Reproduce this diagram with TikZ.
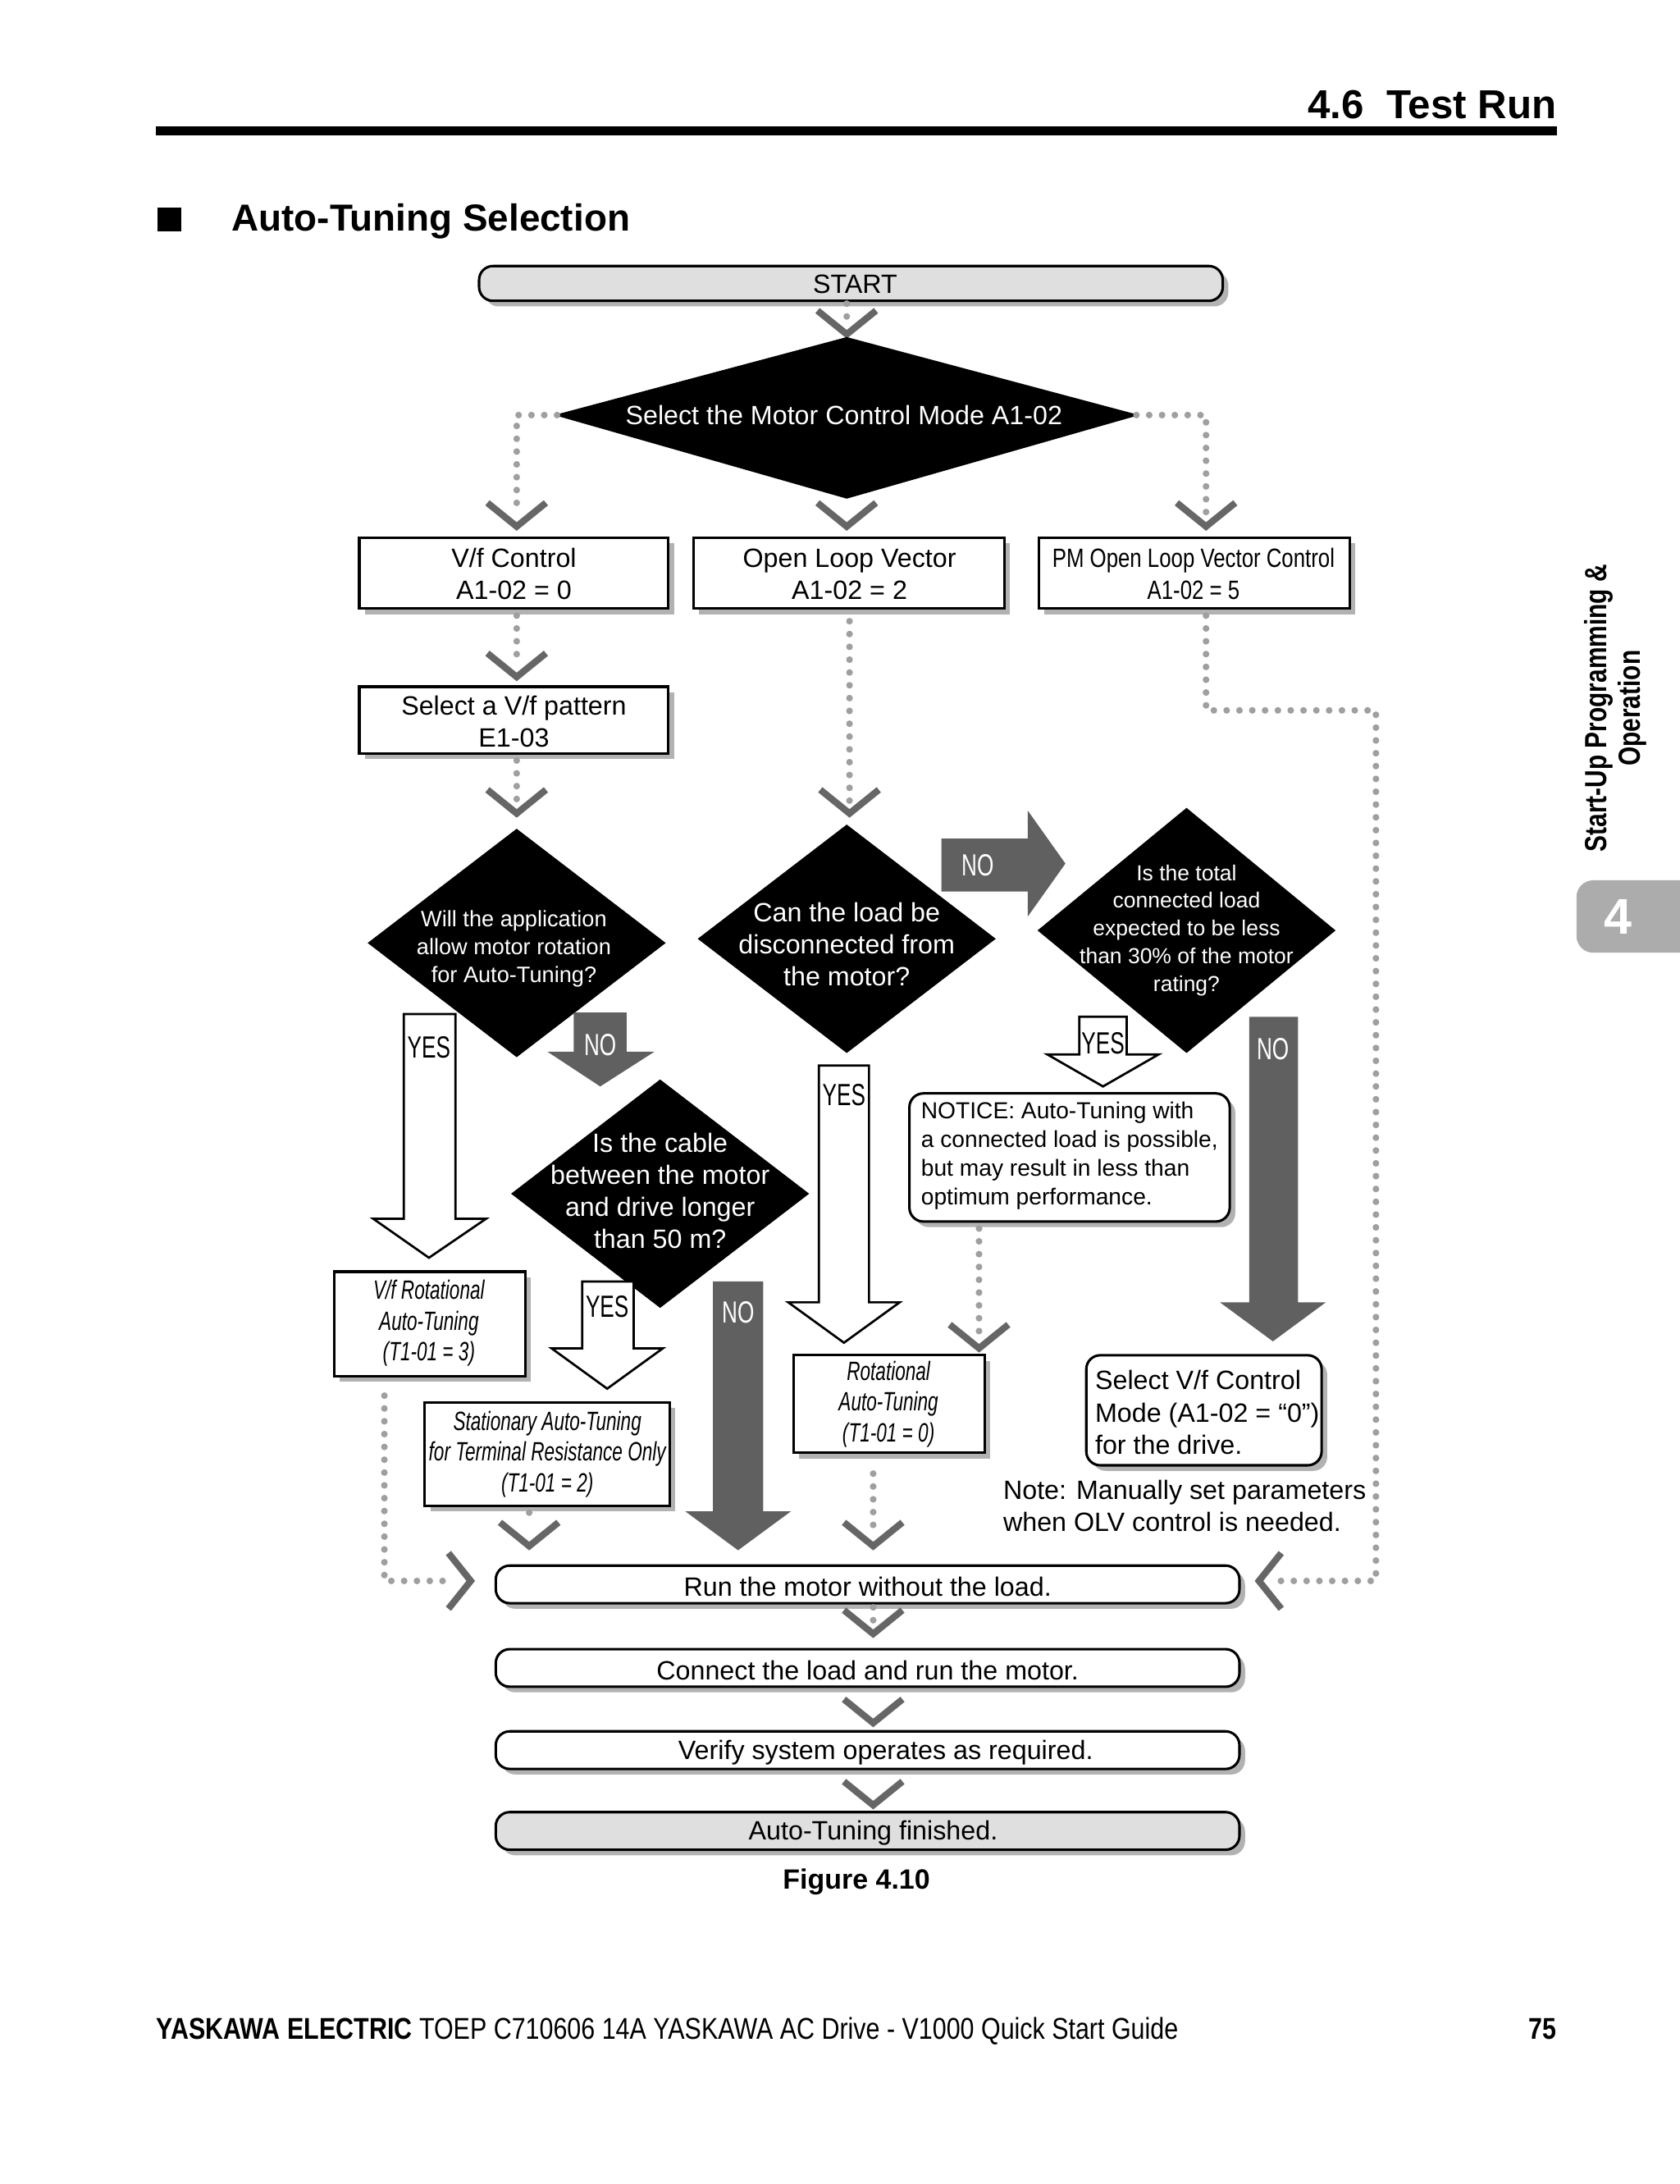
\documentclass[tikz,border=0pt]{standalone}
\usepackage{fontspec}
\setmainfont{Liberation Sans}
\newfontfamily\narrow{Liberation Sans}[FakeStretch=0.8]
\newfontfamily\nrwx{Liberation Sans}[FakeStretch=0.7]
\newfontfamily\footf{Liberation Sans}[FakeStretch=0.83]
\begin{document}
\begin{tikzpicture}[x=0.5pt,y=-0.5pt,
 dot/.style={draw=gray!75,line width=2.4pt,line cap=round,dash pattern=on 0pt off 4.6pt},
 chev/.style={draw=gray!80!black,line width=2.4pt},
 box/.style={draw=black,line width=0.9pt,fill=white},
 shad/.style={fill=gray!60,draw=none},
 dia/.style={fill=black,draw=none},
 wt/.style={text=white,align=center,inner sep=0pt},
 bt/.style={align=center,inner sep=0pt},
 lab/.style={font=\nrwx\fontsize{11}{13}\selectfont},
 garr/.style={fill=gray!75!black,draw=none},
 warr/.style={fill=white,draw=black,line width=0.8pt},
 fs/.style={font=\fontsize{9.5}{11.5}\selectfont}]
\newcommand\chev[2]{\draw[chev] ({#1-21},{#2-17}) -- (#1,#2) -- ({#1+21},{#2-17});}
\newcommand\shbox[4]{\fill[shad] ({#1+4},{#2+4}) rectangle ({#3+4},{#4+4});\draw[box] (#1,#2) rectangle (#3,#4);}
\newcommand\rbox[6]{\fill[shad,rounded corners=5pt] ({#1+4},{#2+4}) rectangle ({#3+4},{#4+4});\draw[box,rounded corners=5pt,fill=#6] (#1,#2) rectangle (#3,#4);}
\useasboundingbox (0,0) rectangle (1206,1568);
\fill[white] (0,0) rectangle (1206,1568);
% header
\node[anchor=base east,inner sep=0pt,font=\bfseries\fontsize{14.5}{16}\selectfont] (hdr) at (1118,85) {4.6\ \ Test Run};
\fill (112,91) rectangle (1118,97);
\fill (113,149) rectangle (130,166);
\node[anchor=base west,inner sep=0pt,font=\bfseries\fontsize{13.5}{16}\selectfont] (ttl) at (166,166) {Auto-Tuning Selection};
% side tab
\node[rotate=90,bt,font=\bfseries\narrow\fontsize{11}{12}\selectfont,anchor=west] (side) at (1160,612) {Start-Up Programming \&\\Operation};
\fill[gray!65,rounded corners=6pt] (1132,632) rectangle (1220,684);
\node[text=white,font=\bfseries\fontsize{18}{20}\selectfont] (four) at (1162,658) {4};
% START
\rbox{344}{191}{878}{216}{}{gray!25}
\node[fs] (start) at (614,204) {START};
\chev{608}{240}
\draw[dot] (608,218) -- (608,236);
% diamond 1
\fill[dia] (398,298) -- (608,242) -- (818,298) -- (608,358) -- cycle;
\node[wt,fs] (d1) at (606,298) {Select the Motor Control Mode A1-02};
\draw[dot] (400,298) -- (371,298) -- (371,370);
\draw[dot] (816,298) -- (866,298) -- (866,370);
\chev{371}{378}\chev{608}{378}\chev{866}{378}
% boxes row
\shbox{258}{386}{480}{437}
\node[bt,fs] (vf) at (369,412) {V/f Control\\A1-02 = 0};
\shbox{498}{386}{721}{437}
\node[bt,fs] (olv) at (610,412) {Open Loop Vector\\A1-02 = 2};
\shbox{746}{386}{969}{437}
\node[bt,font=\narrow\fontsize{9.5}{11.5}\selectfont] (pm) at (857,412) {PM Open Loop Vector Control\\A1-02 = 5};
\draw[dot] (371,442) -- (371,478);\chev{371}{486}
\shbox{258}{493}{480}{541}
\node[bt,fs] (pat) at (369,518) {Select a V/f pattern\\E1-03};
\draw[dot] (371,546) -- (371,575);\chev{371}{584}
\draw[dot] (610,446) -- (610,575);\chev{610}{584}
\draw[dot] (866,442) -- (866,510) -- (988,510) -- (988,1135) -- (918,1135);
\draw[chev] (920,1115) -- (904,1135) -- (920,1155);
% diamonds
\fill[dia] (264,677) -- (371,595) -- (478,677) -- (371,759) -- cycle;
\node[wt,font=\fontsize{8}{10}\selectfont] (d2) at (369,681) {Will the application\\allow motor rotation\\for Auto-Tuning?};
\fill[dia] (501,674) -- (608,592) -- (715,674) -- (608,756) -- cycle;
\node[wt,fs] (d3) at (608,678) {Can the load be\\disconnected from\\the motor?};
\fill[dia] (745,668) -- (852,580) -- (959,668) -- (852,756) -- cycle;
\node[wt,font=\fontsize{7.8}{10}\selectfont] (d4) at (852,668) {Is the total\\connected load\\expected to be less\\than 30\% of the motor\\rating?};
% NO right arrow
\fill[garr] (676,602) -- (738,602) -- (738,582) -- (765,620) -- (738,658) -- (738,640) -- (676,640) -- cycle;
\node[wt,lab] (no1) at (702,621) {NO};
% YES arrow d2
\draw[warr] (290,728) -- (327,728) -- (327,875) -- (349,875) -- (308,903) -- (268,875) -- (290,875) -- cycle;
\node[bt,lab] (yes1) at (308,752) {YES};
% NO arrow d2
\fill[garr] (412,727) -- (450,727) -- (450,755) -- (470,755) -- (431,780) -- (393,755) -- (412,755) -- cycle;
\node[wt,lab] (no2) at (431,750) {NO};
% diamond 5
\fill[dia] (367,857) -- (474,775) -- (581,857) -- (474,939) -- cycle;
\node[wt,fs] (d5) at (474,855) {Is the cable\\between the motor\\and drive longer\\than 50 m?};
\shbox{240}{913}{377}{988}
\node[bt,font=\nrwx\itshape\fontsize{9.5}{11}\selectfont] (vfr) at (308,950) {V/f Rotational\\Auto-Tuning\\(T1-01 = 3)};
\draw[warr] (418,920) -- (455,920) -- (455,968) -- (476,968) -- (436,997) -- (396,968) -- (418,968) -- cycle;
\node[bt,lab] (yes2) at (436,938) {YES};
\shbox{305}{1007}{481}{1081}
\node[bt,font=\nrwx\itshape\fontsize{9.5}{11}\selectfont] (sta) at (393,1044) {Stationary Auto-Tuning\\for Terminal Resistance Only\\(T1-01 = 2)};
\fill[garr] (512,920) -- (548,920) -- (548,1085) -- (568,1085) -- (530,1113) -- (492,1085) -- (512,1085) -- cycle;
\node[wt,lab] (no3) at (530,942) {NO};
% YES arrow d3
\draw[warr] (588,765) -- (624,765) -- (624,935) -- (646,935) -- (606,964) -- (566,935) -- (588,935) -- cycle;
\node[bt,lab] (yes3) at (606,786) {YES};
\shbox{570}{973}{707}{1043}
\node[bt,font=\nrwx\itshape\fontsize{9.5}{11}\selectfont] (rot) at (638,1008) {Rotational\\Auto-Tuning\\(T1-01 = 0)};
% d4 YES
\draw[warr] (775,730) -- (809,730) -- (809,757) -- (832,757) -- (792,780) -- (752,757) -- (775,757) -- cycle;
\node[bt,lab] (yes4) at (792,749) {YES};
\rbox{653}{785}{883}{877}{}{white}
\node[align=left,inner sep=0pt,anchor=west,font=\fontsize{8.3}{10.3}\selectfont] (notice) at (661,830) {NOTICE: Auto-Tuning with\\a connected load is possible,\\but may result in less than\\optimum performance.};
\draw[dot] (703,882) -- (703,960);\chev{703}{968}
% d4 NO
\fill[garr] (897,730) -- (932,730) -- (932,935) -- (952,935) -- (914,963) -- (876,935) -- (897,935) -- cycle;
\node[wt,lab] (no4) at (914,753) {NO};
\rbox{780}{973}{949}{1052}{}{white}
\node[align=left,inner sep=0pt,anchor=west,fs] (svf) at (786,1014) {Select V/f Control\\Mode (A1-02 = ``0'')\\for the drive.};
\node[align=left,inner sep=0pt,anchor=west,fs] (note) at (720,1081) {Note: Manually set parameters\\when OLV control is needed.};
% lower connectors
\draw[dot] (276,1002) -- (276,1135) -- (324,1135);
\draw[chev] (322,1115) -- (338,1135) -- (322,1155);
\draw[dot] (380,1086) -- (380,1094);\chev{380}{1110}
\draw[dot] (627,1058) -- (627,1098);\chev{627}{1110}
\rbox{356}{1124}{890}{1151}{}{white}
\node[fs] (run) at (623,1139) {Run the motor without the load.};
\draw[dot] (627,1154) -- (627,1168);\chev{627}{1173}
\rbox{356}{1184}{890}{1211}{}{white}
\node[fs] (con) at (623,1199) {Connect the load and run the motor.};
\chev{627}{1237}
\rbox{356}{1243}{890}{1270}{}{white}
\node[fs] (ver) at (636,1258) {Verify system operates as required.};
\chev{627}{1296}
\rbox{356}{1301}{890}{1328}{}{gray!25}
\node[fs] (fin) at (627,1316) {Auto-Tuning finished.};
\node[font=\bfseries\fontsize{10}{12}\selectfont] (fig) at (615,1351) {Figure 4.10};
% footer
\node[anchor=base west,inner sep=0pt,font=\footf\fontsize{10.8}{12}\selectfont] (foot) at (112,1464) {\textbf{YASKAWA ELECTRIC} TOEP C710606 14A YASKAWA AC Drive - V1000 Quick Start Guide};
\node[anchor=base east,inner sep=0pt,font=\bfseries\footf\fontsize{10.8}{12}\selectfont] (pg) at (1118,1464) {75};
\end{tikzpicture}
\end{document}
